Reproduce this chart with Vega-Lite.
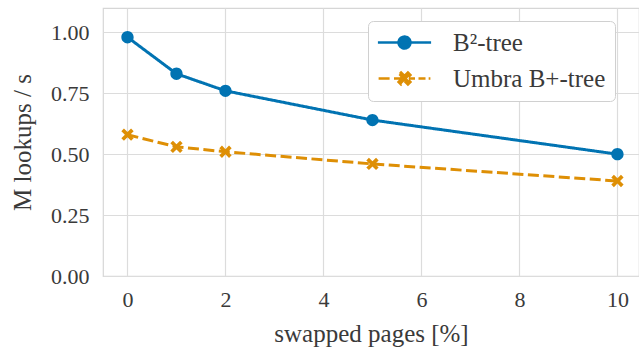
{
  "$schema": "https://vega.github.io/schema/vega-lite/v6.json",
  "width": 536,
  "height": 268,
  "autosize": {"type": "none"},
  "padding": {"left": 103, "top": 8, "right": 0, "bottom": 78},
  "background": "white",
  "config": {
    "font": "Liberation Serif",
    "view": {"stroke": "#d6d6d6", "strokeWidth": 1.2},
    "axis": {
      "gridColor": "#dcdcdc",
      "gridWidth": 1.2,
      "domain": false,
      "ticks": false,
      "labelFont": "Liberation Serif",
      "labelFontSize": 22,
      "labelColor": "#3a3a3a",
      "titleFont": "Liberation Serif",
      "titleFontSize": 25,
      "titleFontWeight": "normal",
      "titleColor": "#3a3a3a"
    },
    "legend": {
      "title": null,
      "orient": "none",
      "legendX": 265,
      "legendY": 13,
      "padding": 9,
      "fillColor": "white",
      "strokeColor": "#d0d0d0",
      "cornerRadius": 5,
      "labelFont": "Liberation Serif",
      "labelFontSize": 25,
      "labelColor": "#3a3a3a",
      "labelOffset": 36,
      "symbolOffset": 15,
      "symbolSize": 196,
      "rowPadding": 10,
      "symbolStrokeWidth": 2.5
    }
  },
  "data": {
    "values": [
      {"x": 0, "y": 0.98, "series": "B²-tree"},
      {"x": 1, "y": 0.83, "series": "B²-tree"},
      {"x": 2, "y": 0.76, "series": "B²-tree"},
      {"x": 5, "y": 0.64, "series": "B²-tree"},
      {"x": 10, "y": 0.50, "series": "B²-tree"},
      {"x": 0, "y": 0.58, "series": "Umbra B+-tree"},
      {"x": 1, "y": 0.53, "series": "Umbra B+-tree"},
      {"x": 2, "y": 0.51, "series": "Umbra B+-tree"},
      {"x": 5, "y": 0.46, "series": "Umbra B+-tree"},
      {"x": 10, "y": 0.39, "series": "Umbra B+-tree"}
    ]
  },
  "encoding": {
    "x": {
      "field": "x", "type": "quantitative",
      "scale": {"domain": [-0.5, 10.44], "nice": false, "zero": false},
      "axis": {"values": [0, 2, 4, 6, 8, 10], "title": "swapped pages [%]", "labelPadding": 13, "titlePadding": 11}
    },
    "y": {
      "field": "y", "type": "quantitative",
      "scale": {"domain": [0, 1.1], "nice": false},
      "axis": {"values": [0, 0.25, 0.5, 0.75, 1.0], "format": ".2f", "title": "M lookups / s", "labelPadding": 14, "titlePadding": 15}
    }
  },
  "layer": [
    {
      "mark": {"type": "line", "strokeWidth": 3},
      "encoding": {
        "color": {
          "field": "series", "type": "nominal",
          "scale": {"domain": ["B²-tree", "Umbra B+-tree"], "range": ["#0173b2", "#de8f05"]},
          "legend": {"encode": {"symbols": {"update": {
            "shape": {"scale": "shape", "field": "value"},
            "size": {"value": 196},
            "fill": {"scale": "color", "field": "value"},
            "stroke": {"scale": "color", "field": "value"},
            "strokeWidth": {"value": 2.5},
            "strokeDash": {"value": [1, 0]},
            "opacity": {"value": 1}
          }}}}
        },
        "strokeDash": {
          "field": "series", "type": "nominal",
          "scale": {"domain": ["B²-tree", "Umbra B+-tree"], "range": [[1, 0], [11, 4.5]]},
          "legend": {"encode": {"symbols": {"update": {
            "shape": {"scale": "shape", "field": "value"},
            "size": {"value": 196},
            "fill": {"scale": "color", "field": "value"},
            "stroke": {"scale": "color", "field": "value"},
            "strokeWidth": {"value": 2.5},
            "strokeDash": {"value": [1, 0]},
            "opacity": {"value": 1}
          }}}}
        }
      }
    },
    {
      "mark": {"type": "point", "filled": true, "opacity": 1, "size": 210, "strokeWidth": 0},
      "encoding": {
        "color": {
          "field": "series", "type": "nominal",
          "scale": {"domain": ["B²-tree", "Umbra B+-tree"], "range": ["#0173b2", "#de8f05"]},
          "legend": {"encode": {"symbols": {"update": {
            "shape": {"scale": "shape", "field": "value"},
            "size": {"value": 196},
            "fill": {"scale": "color", "field": "value"},
            "stroke": {"scale": "color", "field": "value"},
            "strokeWidth": {"value": 2.5},
            "strokeDash": {"value": [1, 0]},
            "opacity": {"value": 1}
          }}}}
        },
        "shape": {
          "field": "series", "type": "nominal",
          "scale": {
            "domain": ["B²-tree", "Umbra B+-tree"],
            "range": [
              "M-3.8,0L3.8,0M0.85,0A0.85,0.85 0 1,1 -0.85,0A0.85,0.85 0 1,1 0.85,0Z",
              "M-3.7,0L-2.05,0M-1.5,0L-0.6,0M0.6,0L1.5,0M2.0,0L3.0,0M3.45,0L3.7,0M0,-0.36L0.49,-0.85L0.85,-0.49L0.36,0L0.85,0.49L0.49,0.85L0,0.36L-0.49,0.85L-0.85,0.49L-0.36,0L-0.85,-0.49L-0.49,-0.85Z"
            ]
          },
          "legend": {"encode": {"symbols": {"update": {
            "shape": {"scale": "shape", "field": "value"},
            "size": {"value": 196},
            "fill": {"scale": "color", "field": "value"},
            "stroke": {"scale": "color", "field": "value"},
            "strokeWidth": {"value": 2.5},
            "strokeDash": {"value": [1, 0]},
            "opacity": {"value": 1}
          }}}}
        }
      }
    }
  ]
}
